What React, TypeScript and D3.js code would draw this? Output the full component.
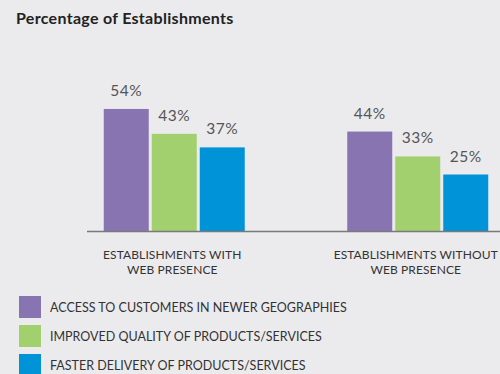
import React from "react";
import * as d3 from "d3";

const categories = ["ESTABLISHMENTS WITH|WEB PRESENCE", "ESTABLISHMENTS WITHOUT|WEB PRESENCE"];
const seriesNames = [
  "ACCESS TO CUSTOMERS IN NEWER GEOGRAPHIES",
  "IMPROVED QUALITY OF PRODUCTS/SERVICES",
  "FASTER DELIVERY OF PRODUCTS/SERVICES",
];
const seriesColors = ["#8874b1", "#a3d06e", "#0093d8"];
const accessValues = [54, 44];
const qualityValues = [43, 33];
const deliveryValues = [37, 25];
const allValues = [accessValues, qualityValues, deliveryValues];

const W = 500;
const H = 374;
const FONT = "Lato, 'Open Sans', sans-serif";

export default function App() {
  const baseline = 231;
  const x0 = d3.scaleBand<string>().domain(categories).range([52.5, 539.5]).paddingInner(0);
  const x1 = d3
    .scaleBand<string>()
    .domain(seriesNames)
    .range([-70.5, 70.5])
    .paddingInner(0.0625)
    .paddingOuter(0);
  const y = d3.scaleLinear().domain([0, 100]).range([baseline, baseline - 226]);

  return (
    <svg
      width={W}
      height={H}
      style={{ position: "absolute", left: 0, top: 0, background: "#ebebee" }}
    >
      <rect x={0} y={0} width={W} height={H} fill="#ebebee" />
      <text x={16} y={24} fontFamily={FONT} fontWeight={700} fontSize={16} letterSpacing={0.3} fill="#222">
        Percentage of Establishments
      </text>
      {categories.map((cat, ci) => {
        const cx = (x0(cat) as number) + x0.bandwidth() / 2;
        return (
          <g key={cat}>
            {seriesNames.map((s, si) => {
              const v = allValues[si][ci];
              const bx = cx + (x1(s) as number);
              return (
                <g key={s}>
                  <rect
                    x={bx}
                    y={y(v)}
                    width={x1.bandwidth()}
                    height={baseline - y(v)}
                    fill={seriesColors[si]}
                  />
                  <text
                    x={bx + x1.bandwidth() / 2}
                    y={y(v) - 13}
                    textAnchor="middle"
                    fontFamily={FONT}
                    fontSize={15.5}
                    fill="#555"
                    letterSpacing={0.5}
                  >
                    {v}%
                  </text>
                </g>
              );
            })}
            {cat.split("|").map((line, li) => (
              <text
                key={li}
                x={cx - 2}
                y={258.5 + li * 15.5}
                textAnchor="middle"
                fontFamily={FONT}
                fontSize={12}
                letterSpacing={0.1}
                fill="#333"
              >
                {line}
              </text>
            ))}
          </g>
        );
      })}
      <line x1={87} x2={500} y1={baseline + 0.5} y2={baseline + 0.5} stroke="#7a7a7a" strokeWidth={1.5} />
      {seriesNames.map((s, si) => (
        <g key={s} transform={`translate(19, ${296 + si * 29})`}>
          <rect x={0} y={0} width={22} height={22} fill={seriesColors[si]} />
          <text x={31} y={15.5} fontFamily={FONT} fontSize={12.5} fill="#333">
            {s}
          </text>
        </g>
      ))}
    </svg>
  );
}
